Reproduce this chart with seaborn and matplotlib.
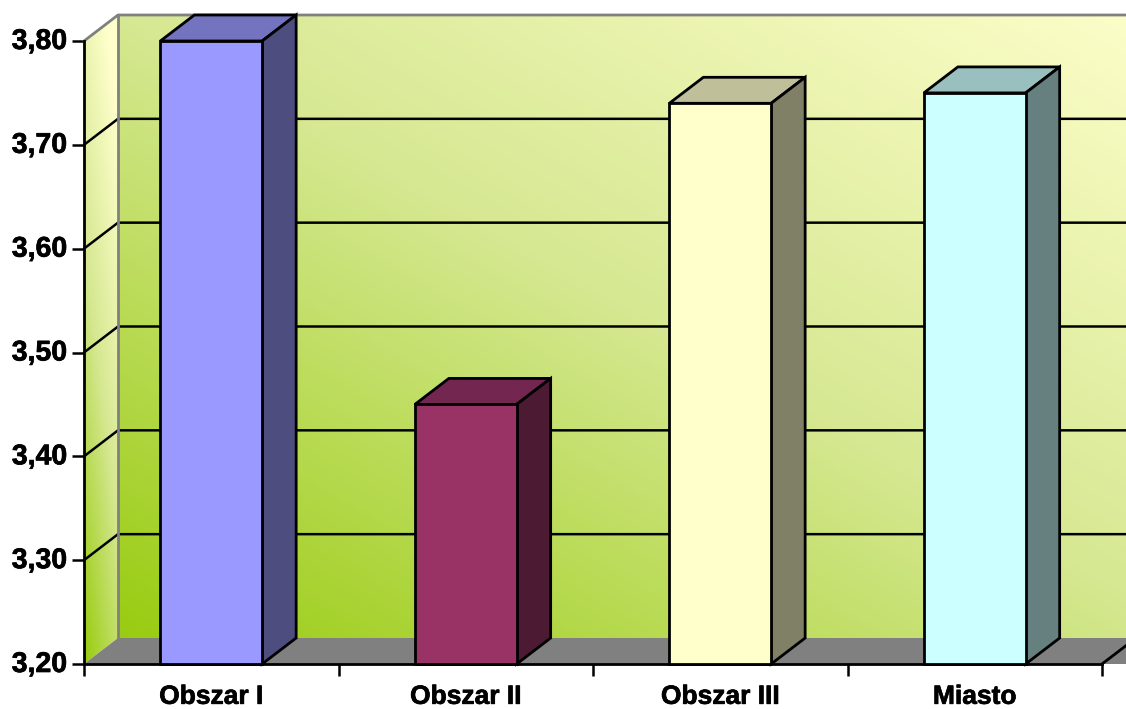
import numpy as np
import pandas as pd
import seaborn as sns
import matplotlib.pyplot as plt
import matplotlib.patheffects as pe
from matplotlib.colors import LinearSegmentedColormap
from matplotlib.patches import Polygon
from matplotlib.transforms import ScaledTranslation

categories = ['Obszar I', 'Obszar II', 'Obszar III', 'Miasto']
values = [3.80, 3.45, 3.74, 3.75]
y_ticks = [3.20, 3.30, 3.40, 3.50, 3.60, 3.70, 3.80]
front_colors = ['#9999ff', '#993366', '#ffffcc', '#ccffff']
top_colors = ['#7373bf', '#732650', '#bfbf99', '#99bfbf']
side_colors = ['#4d4d80', '#4d1a33', '#808066', '#668080']

sns.set_style('white')
plt.rcParams['font.family'] = ['Liberation Sans', 'DejaVu Sans']

W, H = 1126, 709
fig = plt.figure(figsize=(W / 100, H / 100), dpi=100)
# front plane of the fake 3D box, in pixels of the reference
ax = fig.add_axes([84 / W, 1 - 664 / H, (1102 - 84) / W, (664 - 41) / H])

df = pd.DataFrame({'area': categories, 'value': values})
sns.barplot(data=df, x='area', y='value', hue='area', palette=front_colors, legend=False,
            width=0.4, saturation=1, edgecolor='black', linewidth=2, ax=ax)

x0, x1 = -0.5, 3.5
y0, y1 = 3.2, 3.8
dx = 34 / 254.5   # depth of the box
dy = 26 / 1038.3
ext = (x1 - x0) * 1.1

wall_cmap = LinearSegmentedColormap.from_list('wall', ['#99cc11', '#d6e892', '#ffffcc'])

# back wall gradient
u, v = np.meshgrid(np.linspace(0, 1, 300), np.linspace(0, 1, 300))
ax.imshow((u + v) / 2, extent=(x0 + dx, x0 + ext, y0 + dy, y1 + dy), origin='lower',
          cmap=wall_cmap, vmin=0, vmax=1, aspect='auto', zorder=0, clip_on=False)

# left wall gradient
side = np.clip(v * 0.8 + u * 0.35 - 0.02, 0, 1)
im = ax.imshow(side, extent=(x0, x0 + dx, y0, y1 + dy), origin='lower',
               cmap=wall_cmap, vmin=0, vmax=1, aspect='auto', zorder=0.5)
side_shape = Polygon([(x0, y0), (x0 + dx, y0 + dy), (x0 + dx, y1 + dy), (x0, y1)],
                     transform=ax.transData)
im.set_clip_path(side_shape)
im.set_clip_box(fig.bbox)

# floor
ax.add_patch(Polygon([(x0, y0), (x0 + dx, y0 + dy), (x0 + ext, y0 + dy), (x0 + ext, y0), (x1 + 0.2, y0)],
                     closed=True, fc='#808080', ec='none', zorder=0.6, clip_on=False))
ax.add_patch(Polygon([(x1, y0), (x1 + dx, y0 + dy), (x0 + ext, y0 + dy), (x0 + ext, y0)],
                     closed=True, fc='white', ec='none', zorder=0.55, clip_on=False))

# grid on back and left walls
for t in y_ticks[1:-1]:
    ax.plot([x0, x0 + dx, x0 + ext], [t, t + dy, t + dy], color='black', lw=1.8, zorder=1,
            clip_on=False, solid_joinstyle='miter')
ax.plot([x0, x0 + dx, x0 + ext], [y1, y1 + dy, y1 + dy], color='#808080', lw=2, zorder=1, clip_on=False)
ax.plot([x0 + dx, x0 + dx], [y0 + dy, y1 + dy], color='#808080', lw=2, zorder=1, clip_on=False)
ax.plot([x1, x1 + dx], [y0, y0 + dy], color='black', lw=2, zorder=1, clip_on=False)

# bars: front face comes from seaborn, top and side faces follow it
for i, p in enumerate(ax.patches[:len(categories)]):
    top = p.get_height()
    p.set_y(y0)
    p.set_height(top - y0)
    p.set_zorder(3)
    p.set_clip_on(False)
    a, b = p.get_x(), p.get_x() + p.get_width()
    ax.add_patch(Polygon([(a, top), (a + dx, top + dy), (b + dx, top + dy), (b, top)],
                         fc=top_colors[i], ec='black', lw=2, zorder=2.5, clip_on=False))
    ax.add_patch(Polygon([(b, y0), (b + dx, y0 + dy), (b + dx, top + dy), (b, top)],
                         fc=side_colors[i], ec='black', lw=2, zorder=2.5, clip_on=False))

ax.set_xlim(x0, x1)
ax.set_ylim(y0, y1)
ax.set_yticks(y_ticks)
ax.set_yticklabels([f'{t:.2f}'.replace('.', ',') for t in y_ticks], fontsize=20.5, fontweight='bold', color='black')
ax.set_xticks(range(len(categories)))
ax.set_xticklabels(categories, fontsize=19, fontweight='bold', color='black')
ax.set_xticks(np.arange(x0, x1 + 1), minor=True)
ax.tick_params(axis='x', which='major', length=0, pad=15)
ax.tick_params(axis='x', which='minor', length=8.6, width=1.8, color='black', bottom=True)
ax.tick_params(axis='y', length=8.6, width=1.8, color='black', left=True, pad=3.5)
ax.set_xlabel('')
ax.set_ylabel('')

# labels sit a little higher in the reference and look heavier
nudge = ScaledTranslation(0, 2 / 100, fig.dpi_scale_trans)
for lab in ax.get_yticklabels():
    lab.set_transform(lab.get_transform() + nudge)
for lab in ax.get_xticklabels() + ax.get_yticklabels():
    lab.set_path_effects([pe.withStroke(linewidth=0.5, foreground='black')])

for s in ['top', 'right']:
    ax.spines[s].set_visible(False)
for s in ['left', 'bottom']:
    ax.spines[s].set_color('black')
    ax.spines[s].set_linewidth(2)
    ax.spines[s].set_zorder(2)

fig.savefig('out.png', dpi=100)
